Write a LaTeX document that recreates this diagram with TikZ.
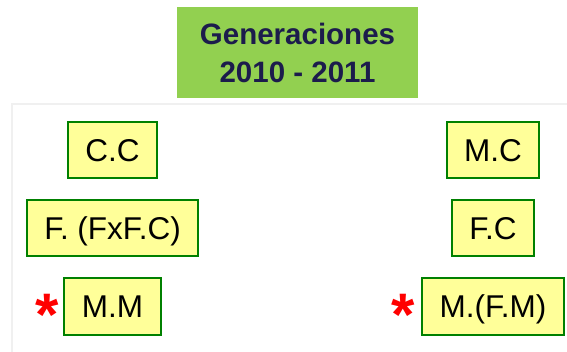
\documentclass[tikz,border=0pt]{standalone}
\usepackage{fontspec}
\setmainfont{Liberation Sans}
\usetikzlibrary{positioning}
\definecolor{verdetitulo}{HTML}{92D050}
\definecolor{azultitulo}{HTML}{1C1C4C}
\definecolor{amarillo}{HTML}{FFFF99}
\definecolor{verdeborde}{HTML}{008000}
\definecolor{grisfondo}{HTML}{F0F0F0}

\begin{document}
\begin{tikzpicture}[%
    x=1pt, y=-1pt,
    node distance=78pt,
    on grid,
    caja/.style={draw=verdeborde, fill=amarillo, line width=2pt,
                 inner xsep=17.5pt, minimum height=56pt,
                 text height=22.5pt, text depth=0pt,
                 font=\fontsize{31.5}{37}\selectfont},
    estrella/.style={text=red, inner sep=0pt, yshift=-8pt,
                 font=\bfseries\fontsize{60}{60}\selectfont}
    ]
    \useasboundingbox (0,0) rectangle (567,352);
    \draw[grisfondo, line width=1.5pt] (12,352) -- (12,104) -- (567,104);

    \node[fill=verdetitulo, text=azultitulo, align=center,
          minimum width=241pt, minimum height=91pt,
          font=\bfseries\fontsize{29.5}{38}\selectfont] (titulo) at (297.5,52.5)
          {Generaciones\\2010 - 2011};

    \node[caja] (cc)                  at (112.5,150.5) {C.C};
    \node[caja] (ff)  [below=of cc]   {F. (FxF.C)};
    \node[caja] (mm)  [below=of ff]   {M.M};
    \node[caja] (mc)  [right=380.5pt of cc] {M.C};
    \node[caja] (fc)  [below=of mc]   {F.C};
    \node[caja] (mfm) [below=of fc]   {M.(F.M)};

    \node[estrella] (e1) [left=4pt of mm.west]  {*};
    \node[estrella] (e2) [left=6pt of mfm.west] {*};
\end{tikzpicture}
\end{document}
